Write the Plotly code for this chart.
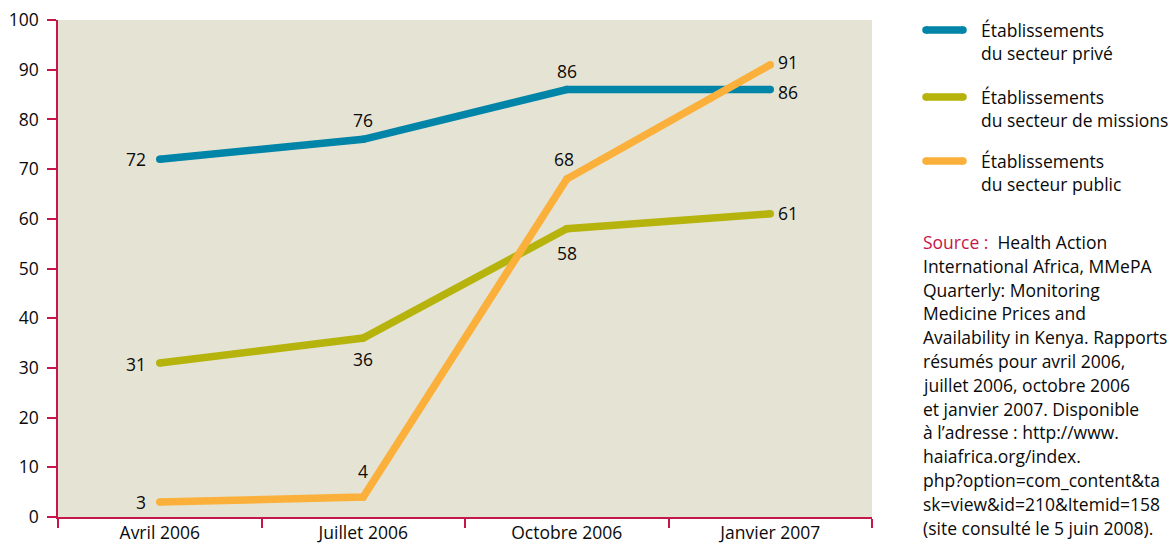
import plotly.graph_objects as go

categories = ["Avril 2006", "Juillet 2006", "Octobre 2006", "Janvier 2007"]
series_names = [
    ["Établissements", "du secteur privé"],
    ["Établissements", "du secteur de missions"],
    ["Établissements", "du secteur public"],
]
prive = [72, 76, 86, 86]
missions = [31, 36, 58, 61]
public = [3, 4, 68, 91]
y_ticks = [0, 10, 20, 30, 40, 50, 60, 70, 80, 90, 100]

source_lines = [
    "Health Action",
    "International Africa, MMePA",
    "Quarterly: Monitoring",
    "Medicine Prices and",
    "Availability in Kenya. Rapports",
    "résumés pour avril 2006,",
    "juillet 2006, octobre 2006",
    "et janvier 2007. Disponible",
    "à l’adresse : http://www.",
    "haiafrica.org/index.",
    "php?option=com_content&ta",
    "sk=view&id=210&Itemid=158",
    "(site consulté le 5 juin 2008).",
]

colors = ["#0085A8", "#B5B30C", "#FBB03B"]
axis_red = "#C5174A"
FONT = "Open Sans"
FS = 17.5
TXT = "#0a0a0a"

# label placement: (xanchor, xshift, yshift) per point, yanchor middle
label_pos = [
    [("right", -12, 0), ("center", 0, 19), ("center", 0, 19), ("left", 6, -2)],
    [("right", -12, -1), ("center", 0, -21), ("center", 0, -24), ("left", 6, 1)],
    [("right", -12, 0), ("center", 0, 26), ("center", -3, 20), ("left", 6, 3)],
]

fig = go.Figure()
all_series = [prive, missions, public]
annotations = []
for i, vals in enumerate(all_series):
    fig.add_trace(go.Scatter(
        x=categories, y=vals, mode="lines+markers",
        line=dict(color=colors[i], width=7.5),
        marker=dict(color=colors[i], size=7.5, line=dict(width=0)),
        showlegend=False, hoverinfo="skip",
    ))
    for j, v in enumerate(vals):
        xa, xs, ys = label_pos[i][j]
        annotations.append(dict(
            x=categories[j], y=v, xref="x", yref="y", text=str(v),
            showarrow=False, xanchor=xa, yanchor="middle", xshift=xs, yshift=ys,
            font=dict(family=FONT, size=FS, color=TXT),
        ))

# custom legend
W, H = 1172, 544
L, R, T, B = 58, 300, 20, 27
pw = W - L - R
ph = H - T - B

def px_x(px):
    return (px - L) / pw

def px_y(py):
    return 1 - (py - T) / ph

shapes = []
leg_y = [30, 97, 161]
for i, names in enumerate(series_names):
    y0 = leg_y[i]
    shapes.append(dict(type="line", xref="paper", yref="paper",
                       x0=px_x(926), x1=px_x(963), y0=px_y(y0), y1=px_y(y0),
                       line=dict(color=colors[i], width=7.5)))
    for cx in (926, 963):
        shapes.append(dict(type="circle", xref="paper", yref="paper",
                           xsizemode="pixel", ysizemode="pixel",
                           xanchor=px_x(cx), yanchor=px_y(y0),
                           x0=-3.75, x1=3.75, y0=-3.75, y1=3.75,
                           fillcolor=colors[i], line=dict(width=0)))
    for k, t in enumerate(names):
        annotations.append(dict(
            x=px_x(979), y=px_y(y0 + 23 * k), xref="paper", yref="paper",
            text=t, showarrow=False, xanchor="left", yanchor="middle",
            font=dict(family=FONT, size=FS, color=TXT),
        ))

# source block
src_y0 = 242
for k, t in enumerate(source_lines):
    txt = t
    if k == 0:
        txt = "<span style='color:%s'>Source :</span>  %s" % (axis_red, t)
    annotations.append(dict(
        x=px_x(921), y=px_y(src_y0 + 23.8 * k), xref="paper", yref="paper",
        text=txt, showarrow=False, xanchor="left", yanchor="middle",
        font=dict(family=FONT, size=FS, color=TXT),
    ))

fig.update_layout(
    width=W, height=H,
    margin=dict(l=L, r=R, t=T, b=B, pad=0, autoexpand=False),
    paper_bgcolor="white", plot_bgcolor="#E5E3D3",
    font=dict(family=FONT, size=FS, color=TXT),
    annotations=annotations, shapes=shapes,
    xaxis=dict(type="category", range=[-0.5, 3.5], tickson="boundaries",
               ticks="outside", ticklen=9, tickcolor=axis_red, tickwidth=1.5,
               showline=True, linecolor=axis_red, linewidth=1.5,
               showgrid=False, zeroline=False, automargin=False,
               ticklabelstandoff=-1,
               tickfont=dict(family=FONT, size=FS, color=TXT)),
    yaxis=dict(range=[0, 100], tickvals=y_ticks, ticks="outside", ticklen=9,
               tickcolor=axis_red, tickwidth=1.5,
               showline=True, linecolor=axis_red, linewidth=1.5,
               showgrid=False, zeroline=False, automargin=False,
               ticklabelstandoff=5,
               tickfont=dict(family=FONT, size=FS, color=TXT)),
)

fig.write_html("out.html", config={"displayModeBar": False},
               post_script="document.body.style.margin='0';document.body.style.overflow='hidden';")
